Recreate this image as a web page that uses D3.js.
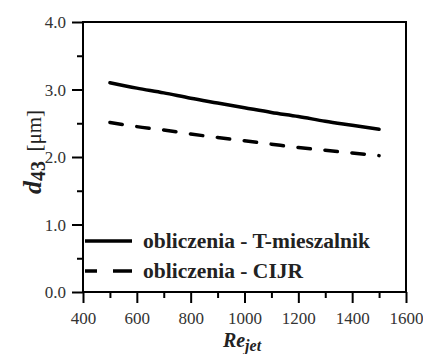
<!DOCTYPE html>
<html><head><meta charset="utf-8">
<script src="https://cdn.jsdelivr.net/npm/d3@7"></script>
<style>body{margin:0;background:#fff}svg{display:block}</style>
</head><body>
<svg id="c" width="423" height="354"></svg>
<script>
const reValues = [500,600,700,800,900,1000,1100,1200,1300,1400,1500];
const tMieszalnik = [3.10,3.02,2.95,2.87,2.80,2.73,2.66,2.60,2.53,2.47,2.41];
const cijr = [2.51,2.45,2.40,2.34,2.29,2.24,2.19,2.14,2.10,2.06,2.02];
const seriesNames = ["obliczenia - T-mieszalnik","obliczenia - CIJR"];
const xTicks = [400,600,800,1000,1200,1400,1600];
const yTicks = [0,1,2,3,4];

const svg = d3.select("#c");
const font = "Liberation Serif, Times New Roman, DejaVu Serif, serif";
const L=83,R=406,T=22,B=292;
const x = d3.scaleLinear().domain([400,1600]).range([L,R]);
const y = d3.scaleLinear().domain([0,4]).range([B,T]);

// frame
svg.append("rect").attr("x",L).attr("y",T).attr("width",R-L).attr("height",B-T)
  .attr("fill","none").attr("stroke","#000").attr("stroke-width",2);

// x axis
const xa = svg.append("g").attr("transform",`translate(0,${B})`)
  .call(d3.axisBottom(x).tickValues(xTicks).tickFormat(d3.format("d")).tickSize(11).tickSizeOuter(0));
const xm = svg.append("g").attr("transform",`translate(0,${B})`)
  .call(d3.axisBottom(x).tickValues(d3.range(500,1600,200)).tickFormat("").tickSize(6).tickSizeOuter(0));
// y axis
const ya = svg.append("g").attr("transform",`translate(${L},0)`)
  .call(d3.axisLeft(y).tickValues(yTicks).tickFormat(d3.format(".1f")).tickSize(11).tickSizeOuter(0));
const ym = svg.append("g").attr("transform",`translate(${L},0)`)
  .call(d3.axisLeft(y).tickValues([0.5,1.5,2.5,3.5]).tickFormat("").tickSize(6).tickSizeOuter(0));
[xa,xm,ya,ym].forEach(g=>{
  g.attr("font-family",null).attr("font-size",null);
  g.select(".domain").remove();
  g.selectAll(".tick line").attr("stroke","#000").attr("stroke-width",2);
  g.selectAll("text").style("font-family",font).style("font-size","17px").attr("fill","#333");
});
xa.selectAll("text").attr("dy",null).attr("y",32);
ya.selectAll("text").attr("x",-17).attr("dy","0.35em");

// lines
const line = d3.line().x((d,i)=>x(reValues[i])).y(d=>y(d)).curve(d3.curveMonotoneX);
svg.append("path").datum(tMieszalnik).attr("d",line).attr("fill","none")
  .attr("stroke","#000").attr("stroke-width",3.5).attr("stroke-linecap","round");
svg.append("path").datum(cijr).attr("d",line).attr("fill","none")
  .attr("stroke","#000").attr("stroke-width",3.5).attr("stroke-dasharray","12.5,14.6").attr("stroke-linecap","round");

// legend
const lg = svg.append("g");
lg.append("line").attr("x1",85).attr("x2",132).attr("y1",241).attr("y2",241)
  .attr("stroke","#000").attr("stroke-width",3.5);
lg.append("line").attr("x1",85).attr("x2",132).attr("y1",271).attr("y2",271)
  .attr("stroke","#000").attr("stroke-width",3.5).attr("stroke-dasharray","12,16,20");
seriesNames.forEach((n,i)=>{
  lg.append("text").attr("x",143).attr("y",248+i*30).text(n)
    .style("font-family",font).style("font-size","21.5px").attr("font-weight","bold").attr("fill","#222");
});

// axis titles
const xt = svg.append("text").attr("x",242).attr("y",347).attr("text-anchor","middle")
  .style("font-family",font).attr("font-weight","bold").attr("font-style","italic").attr("fill","#222");
xt.append("tspan").style("font-size","20px").text("Re");
xt.append("tspan").style("font-size","16px").attr("dy",4).text("jet");

const yt = svg.append("text").attr("transform","translate(41,152) rotate(-90)").attr("text-anchor","middle")
  .style("font-family",font).attr("fill","#222");
yt.append("tspan").style("font-size","26px").attr("font-weight","bold").attr("font-style","italic").text("d");
yt.append("tspan").style("font-size","20px").attr("font-weight","bold").attr("dy",4).text("43");
yt.append("tspan").style("font-size","21px").attr("dy",-4).text("\u2009 [\u03bcm]");
</script>
</body></html>
